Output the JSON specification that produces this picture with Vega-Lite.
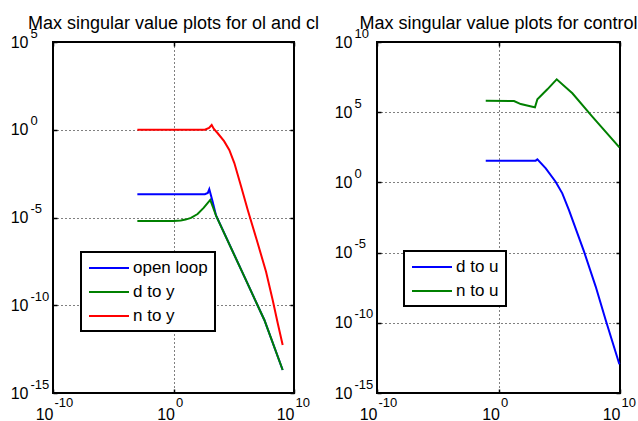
{
 "$schema": "https://vega.github.io/schema/vega-lite/v6.json",
 "background": "white",
 "padding": {"left": 9, "top": 14, "right": 2, "bottom": 0},
 "spacing": 83,
 "bounds": "flush",
 "config": {
  "font": "Liberation Sans",
  "view": {"stroke": "black", "strokeWidth": 2},
  "axis": {"domain": false, "labelColor": "black", "tickColor": "black", "tickWidth": 1.5, "labelFlush": false, "labelOverlap": false, "labelBound": false, "gridColor": "black", "gridDash": [1, 3], "gridOpacity": 1, "gridWidth": 1, "labelFont": "Liberation Sans"},
  "legend": {"orient": "none", "title": null, "symbolType": "M-1,0H4", "symbolSize": 256, "symbolStrokeWidth": 2, "labelFontSize": 17, "labelFont": "Liberation Sans", "labelColor": "black", "strokeColor": "black", "strokeWidth": 2, "fillColor": "white", "padding": 7, "rowPadding": 7, "labelOffset": 27, "labelLimit": 300},
  "title": {"fontSize": 18, "fontWeight": "normal", "color": "black", "font": "Liberation Sans", "anchor": "middle", "frame": "group"}
 },
 "datasets": {
  "left": [
   {"s": "open loop", "x": 0.001, "y": 2.14e-4},
   {"s": "open loop", "x": 398, "y": 2.14e-4},
   {"s": "open loop", "x": 708, "y": 2.51e-4},
   {"s": "open loop", "x": 933, "y": 4.07e-4},
   {"s": "open loop", "x": 1778, "y": 7.94e-5},
   {"s": "open loop", "x": 3388, "y": 1.32e-5},
   {"s": "open loop", "x": 7.59e5, "y": 4.27e-9},
   {"s": "open loop", "x": 3.47e7, "y": 1.45e-11},
   {"s": "open loop", "x": 1.15e9, "y": 2.04e-14},
   {"s": "d to y", "x": 0.001, "y": 6.31e-6},
   {"s": "d to y", "x": 1, "y": 6.31e-6},
   {"s": "d to y", "x": 3.98, "y": 6.76e-6},
   {"s": "d to y", "x": 10, "y": 7.59e-6},
   {"s": "d to y", "x": 28.2, "y": 9.55e-6},
   {"s": "d to y", "x": 100, "y": 1.58e-5},
   {"s": "d to y", "x": 316, "y": 3.55e-5},
   {"s": "d to y", "x": 1122, "y": 1e-4},
   {"s": "d to y", "x": 1995, "y": 3.55e-5},
   {"s": "d to y", "x": 3388, "y": 1.26e-5},
   {"s": "d to y", "x": 7.59e5, "y": 4.27e-9},
   {"s": "d to y", "x": 3.47e7, "y": 1.45e-11},
   {"s": "d to y", "x": 1.15e9, "y": 2.04e-14},
   {"s": "n to y", "x": 0.001, "y": 1},
   {"s": "n to y", "x": 398, "y": 1},
   {"s": "n to y", "x": 891, "y": 1.26},
   {"s": "n to y", "x": 1479, "y": 1.86},
   {"s": "n to y", "x": 2239, "y": 1.12},
   {"s": "n to y", "x": 4677, "y": 0.631},
   {"s": "n to y", "x": 1.58e4, "y": 0.224},
   {"s": "n to y", "x": 4.27e4, "y": 0.0708},
   {"s": "n to y", "x": 1.12e5, "y": 0.0126},
   {"s": "n to y", "x": 3.98e5, "y": 6.31e-4},
   {"s": "n to y", "x": 1.45e6, "y": 2.69e-5},
   {"s": "n to y", "x": 9.77e6, "y": 3.39e-7},
   {"s": "n to y", "x": 4.79e7, "y": 8.13e-9},
   {"s": "n to y", "x": 1.7e8, "y": 2.0e-10},
   {"s": "n to y", "x": 4.47e8, "y": 9.33e-12},
   {"s": "n to y", "x": 1.15e9, "y": 5.5e-13}
  ],
  "right": [
   {"s": "d to u", "x": 0.0891, "y": 35.5},
   {"s": "d to u", "x": 1148, "y": 35.5},
   {"s": "d to u", "x": 1585, "y": 43.7},
   {"s": "d to u", "x": 7762, "y": 10},
   {"s": "d to u", "x": 5.01e4, "y": 1.12},
   {"s": "d to u", "x": 1.78e5, "y": 0.166},
   {"s": "d to u", "x": 6.31e5, "y": 0.0107},
   {"s": "d to u", "x": 1.1e7, "y": 1.17e-5},
   {"s": "d to u", "x": 1e8, "y": 3.8e-8},
   {"s": "d to u", "x": 6.61e8, "y": 1.58e-10},
   {"s": "d to u", "x": 8.91e9, "y": 1.12e-13},
   {"s": "n to u", "x": 0.0891, "y": 6.61e5},
   {"s": "n to u", "x": 19.05, "y": 6.31e5},
   {"s": "n to u", "x": 67.6, "y": 3.8e5},
   {"s": "n to u", "x": 617, "y": 2.45e5},
   {"s": "n to u", "x": 1000, "y": 2.24e5},
   {"s": "n to u", "x": 1585, "y": 8.32e5},
   {"s": "n to u", "x": 1.05e4, "y": 4.27e6},
   {"s": "n to u", "x": 6.17e4, "y": 2.19e7},
   {"s": "n to u", "x": 1.2e6, "y": 2.24e6},
   {"s": "n to u", "x": 5.25e7, "y": 4.79e4},
   {"s": "n to u", "x": 8.91e9, "y": 316}
  ]
 },
 "resolve": {"scale": {"x": "independent", "y": "independent", "color": "independent"}, "legend": {"color": "independent"}},
 "hconcat": [
  {
   "width": 241,
   "height": 351,
   "title": {"text": "Max singular value plots for ol and cl", "baseline": "alphabetic", "offset": -20},
   "data": {"name": "left"},
   "resolve": {"axis": {"x": "independent", "y": "independent"}},
   "layer": [
    {
     "transform": [{"filter": "datum.s === 'open loop'"}],
     "mark": {"type": "line", "strokeWidth": 2},
     "encoding": {
      "x": {"field": "x", "type": "quantitative", "scale": {"type": "log", "domain": [1e-10, 1e10], "nice": false},
       "axis": {"title": null, "orient": "bottom", "values": [1e-10, 1, 1e10], "labelExpr": "'10'", "labelAlign": "right", "labelBaseline": "alphabetic", "labelPadding": 30, "labelFontSize": 16, "labelOffset": {"condition": {"test": "datum.value == 1", "value": 1}, "value": 0}, "ticks": true, "tickSize": -4, "grid": true}},
      "y": {"field": "y", "type": "quantitative", "scale": {"type": "log", "domain": [1e-15, 1e5], "nice": false},
       "axis": {"title": null, "orient": "left", "values": [1e-15, 1e-10, 1e-5, 1, 1e5], "labelExpr": "'10'", "labelAlign": "right", "labelBaseline": "middle", "labelPadding": 29, "labelFontSize": 16, "ticks": true, "tickSize": -4, "grid": true}},
      "color": {"field": "s", "type": "nominal", "scale": {"domain": ["open loop", "d to y", "n to y"], "range": ["#0000ff", "#008000", "#ff0000"]}, "legend": {"legendX": 28, "legendY": 210}}
     }
    },
    {
     "transform": [{"filter": "datum.s === 'd to y'"}],
     "mark": {"type": "line", "strokeWidth": 2},
     "encoding": {
      "x": {"field": "x", "type": "quantitative",
       "axis": {"title": null, "orient": "bottom", "values": [1e-10, 1, 1e10], "labelExpr": "'' + round(log(datum.value) / LN10)", "labelAlign": "left", "labelBaseline": "alphabetic", "labelPadding": 13, "labelFontSize": 13, "labelOffset": {"condition": {"test": "datum.value == 1", "value": 2}, "value": 1}, "ticks": false, "grid": false}},
      "y": {"field": "y", "type": "quantitative",
       "axis": {"title": null, "orient": "left", "values": [1e-15, 1e-10, 1e-5, 1, 1e5], "labelExpr": "'' + round(log(datum.value) / LN10)", "labelAlign": "left", "labelBaseline": "middle", "labelPadding": 23, "labelFontSize": 13, "labelOffset": -9, "ticks": false, "grid": false}},
      "color": {"field": "s", "type": "nominal"}
     }
    },
    {
     "transform": [{"filter": "datum.s === 'n to y'"}],
     "mark": {"type": "line", "strokeWidth": 2},
     "encoding": {
      "x": {"field": "x", "type": "quantitative",
       "axis": {"title": null, "orient": "top", "values": [1e-10, 1, 1e10], "labels": false, "ticks": true, "tickSize": -4, "grid": false}},
      "y": {"field": "y", "type": "quantitative",
       "axis": {"title": null, "orient": "right", "values": [1e-15, 1e-10, 1e-5, 1, 1e5], "labels": false, "ticks": true, "tickSize": -4, "grid": false}},
      "color": {"field": "s", "type": "nominal"}
     }
    }
   ]
  },
  {
   "width": 243,
   "height": 351,
   "title": {"text": "Max singular value plots for control", "baseline": "alphabetic", "offset": -20},
   "data": {"name": "right"},
   "resolve": {"axis": {"x": "independent", "y": "independent"}},
   "layer": [
    {
     "transform": [{"filter": "datum.s === 'd to u'"}],
     "mark": {"type": "line", "strokeWidth": 2},
     "encoding": {
      "x": {"field": "x", "type": "quantitative", "scale": {"type": "log", "domain": [1e-10, 1e10], "nice": false},
       "axis": {"title": null, "orient": "bottom", "values": [1e-10, 1, 1e10], "labelExpr": "'10'", "labelAlign": "right", "labelBaseline": "alphabetic", "labelPadding": 30, "labelFontSize": 16, "labelOffset": {"condition": {"test": "datum.value == 1", "value": 1}, "value": 0}, "ticks": true, "tickSize": -4, "grid": true}},
      "y": {"field": "y", "type": "quantitative", "scale": {"type": "log", "domain": [1e-15, 1e10], "nice": false},
       "axis": {"title": null, "orient": "left", "values": [1e-15, 1e-10, 1e-5, 1, 1e5, 1e10], "labelExpr": "'10'", "labelAlign": "right", "labelBaseline": "middle", "labelPadding": 29, "labelFontSize": 16, "ticks": true, "tickSize": -4, "grid": true}},
      "color": {"field": "s", "type": "nominal", "scale": {"domain": ["d to u", "n to u"], "range": ["#0000ff", "#008000"]}, "legend": {"legendX": 27, "legendY": 209}}
     }
    },
    {
     "transform": [{"filter": "datum.s === 'n to u'"}],
     "mark": {"type": "line", "strokeWidth": 2},
     "encoding": {
      "x": {"field": "x", "type": "quantitative",
       "axis": {"title": null, "orient": "bottom", "values": [1e-10, 1, 1e10], "labelExpr": "'' + round(log(datum.value) / LN10)", "labelAlign": "left", "labelBaseline": "alphabetic", "labelPadding": 13, "labelFontSize": 13, "labelOffset": {"condition": {"test": "datum.value == 1", "value": 2}, "value": 1}, "ticks": false, "grid": false}},
      "y": {"field": "y", "type": "quantitative",
       "axis": {"title": null, "orient": "left", "values": [1e-15, 1e-10, 1e-5, 1, 1e5, 1e10], "labelExpr": "'' + round(log(datum.value) / LN10)", "labelAlign": "left", "labelBaseline": "middle", "labelPadding": 23, "labelFontSize": 13, "labelOffset": -9, "ticks": false, "grid": false}},
      "color": {"field": "s", "type": "nominal"}
     }
    },
    {
     "transform": [{"filter": "datum.s === 'n to u'"}],
     "mark": {"type": "line", "strokeWidth": 2, "opacity": 0},
     "encoding": {
      "x": {"field": "x", "type": "quantitative",
       "axis": {"title": null, "orient": "top", "values": [1e-10, 1, 1e10], "labels": false, "ticks": true, "tickSize": -4, "grid": false}},
      "y": {"field": "y", "type": "quantitative",
       "axis": {"title": null, "orient": "right", "values": [1e-15, 1e-10, 1e-5, 1, 1e5, 1e10], "labels": false, "ticks": true, "tickSize": -4, "grid": false}},
      "color": {"field": "s", "type": "nominal"}
     }
    }
   ]
  }
 ]
}
